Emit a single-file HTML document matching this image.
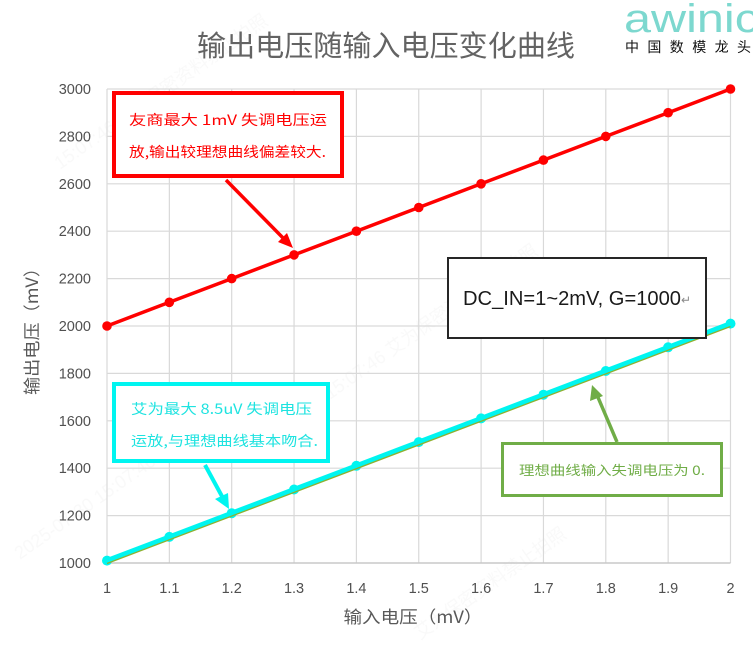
<!DOCTYPE html>
<html><head><meta charset="utf-8">
<style>
html,body{margin:0;padding:0;background:#fff;}
svg{display:block;}
text{font-family:"Liberation Sans","Noto Sans CJK SC",sans-serif;}
.cjk{font-family:"Noto Sans CJK SC","Liberation Sans",sans-serif;}
</style></head>
<body>
<svg width="753" height="649" viewBox="0 0 753 649" xmlns="http://www.w3.org/2000/svg">
<rect width="753" height="649" fill="#fff"/>

<!-- watermarks -->
<g fill="#000" opacity="0.025" font-size="18" class="cjk">
<text x="60" y="170" transform="rotate(-35 60 170)">15:07:46  艾为保密资料禁止拍照</text>
<text x="20" y="560" transform="rotate(-35 20 560)">2025-07-30  15:07:46</text>
<text x="420" y="640" transform="rotate(-35 420 640)">艾为保密资料禁止拍照</text>
<text x="330" y="400" transform="rotate(-35 330 400)">15:07:46  艾为保密资料禁止拍照</text>
</g>

<!-- title -->
<text x="386" y="56" text-anchor="middle" font-size="29" fill="#636363" class="cjk" textLength="378" lengthAdjust="spacingAndGlyphs">输出电压随输入电压变化曲线</text>

<!-- logo -->
<text x="624" y="32" font-size="40" fill="#7dd8cf" textLength="135" lengthAdjust="spacingAndGlyphs" style="font-weight:300">awinic</text>
<text x="625" y="52" font-size="14" fill="#111" class="cjk" textLength="126" lengthAdjust="spacing">中国数模龙头</text>

<!-- grid -->
<g stroke="#d9d9d9" stroke-width="1.2">
<line x1="107" y1="89" x2="730.5" y2="89"/>
<line x1="107" y1="136.4" x2="730.5" y2="136.4"/>
<line x1="107" y1="183.8" x2="730.5" y2="183.8"/>
<line x1="107" y1="231.2" x2="730.5" y2="231.2"/>
<line x1="107" y1="278.6" x2="730.5" y2="278.6"/>
<line x1="107" y1="326" x2="730.5" y2="326"/>
<line x1="107" y1="373.4" x2="730.5" y2="373.4"/>
<line x1="107" y1="420.8" x2="730.5" y2="420.8"/>
<line x1="107" y1="468.2" x2="730.5" y2="468.2"/>
<line x1="107" y1="515.6" x2="730.5" y2="515.6"/>
<line x1="107" y1="89" x2="107" y2="563"/>
<line x1="169.35" y1="89" x2="169.35" y2="563"/>
<line x1="231.7" y1="89" x2="231.7" y2="563"/>
<line x1="294.05" y1="89" x2="294.05" y2="563"/>
<line x1="356.4" y1="89" x2="356.4" y2="563"/>
<line x1="418.75" y1="89" x2="418.75" y2="563"/>
<line x1="481.1" y1="89" x2="481.1" y2="563"/>
<line x1="543.45" y1="89" x2="543.45" y2="563"/>
<line x1="605.8" y1="89" x2="605.8" y2="563"/>
<line x1="668.15" y1="89" x2="668.15" y2="563"/>
<line x1="730.5" y1="89" x2="730.5" y2="563"/>
</g>
<line x1="107" y1="563" x2="730.5" y2="563" stroke="#c8c8c8" stroke-width="1.5"/>

<!-- y tick labels -->
<g font-size="14.5" fill="#505050" text-anchor="end">
<text x="91" y="94">3000</text>
<text x="91" y="141.4">2800</text>
<text x="91" y="188.8">2600</text>
<text x="91" y="236.2">2400</text>
<text x="91" y="283.6">2200</text>
<text x="91" y="331">2000</text>
<text x="91" y="378.4">1800</text>
<text x="91" y="425.8">1600</text>
<text x="91" y="473.2">1400</text>
<text x="91" y="520.6">1200</text>
<text x="91" y="568">1000</text>
</g>
<!-- x tick labels -->
<g font-size="14.5" fill="#505050" text-anchor="middle">
<text x="107" y="593">1</text>
<text x="169.35" y="593">1.1</text>
<text x="231.7" y="593">1.2</text>
<text x="294.05" y="593">1.3</text>
<text x="356.4" y="593">1.4</text>
<text x="418.75" y="593">1.5</text>
<text x="481.1" y="593">1.6</text>
<text x="543.45" y="593">1.7</text>
<text x="605.8" y="593">1.8</text>
<text x="668.15" y="593">1.9</text>
<text x="730.5" y="593">2</text>
</g>

<!-- axis titles -->
<text x="413" y="623" text-anchor="middle" font-size="17" fill="#595959" class="cjk" textLength="139" lengthAdjust="spacingAndGlyphs">输入电压（mV）</text>
<text x="0" y="0" transform="translate(38 327) rotate(-90)" text-anchor="middle" font-size="17" fill="#595959" class="cjk" textLength="136" lengthAdjust="spacingAndGlyphs">输出电压（mV）</text>

<!-- red series -->
<polyline fill="none" stroke="#ff0000" stroke-width="3.5" points="107,326 169.35,302.3 231.7,278.6 294.05,254.9 356.4,231.2 418.75,207.5 481.1,183.8 543.45,160.1 605.8,136.4 668.15,112.7 730.5,89"/>
<g fill="#ff0000">
<circle cx="107" cy="326" r="4.8"/><circle cx="169.35" cy="302.3" r="4.8"/><circle cx="231.7" cy="278.6" r="4.8"/><circle cx="294.05" cy="254.9" r="4.8"/><circle cx="356.4" cy="231.2" r="4.8"/><circle cx="418.75" cy="207.5" r="4.8"/><circle cx="481.1" cy="183.8" r="4.8"/><circle cx="543.45" cy="160.1" r="4.8"/><circle cx="605.8" cy="136.4" r="4.8"/><circle cx="668.15" cy="112.7" r="4.8"/><circle cx="730.5" cy="89" r="4.8"/>
</g>

<!-- cyan series -->
<polyline fill="none" stroke="#00f5f0" stroke-width="5" points="107,560.6 169.35,536.9 231.7,513.2 294.05,489.5 356.4,465.8 418.75,442.1 481.1,418.4 543.45,394.7 605.8,371 668.15,347.3 730.5,323.6"/>
<g fill="#00f5f0">
<circle cx="107" cy="560.6" r="5"/><circle cx="169.35" cy="536.9" r="5"/><circle cx="231.7" cy="513.2" r="5"/><circle cx="294.05" cy="489.5" r="5"/><circle cx="356.4" cy="465.8" r="5"/><circle cx="418.75" cy="442.1" r="5"/><circle cx="481.1" cy="418.4" r="5"/><circle cx="543.45" cy="394.7" r="5"/><circle cx="605.8" cy="371" r="5"/><circle cx="668.15" cy="347.3" r="5"/><circle cx="730.5" cy="323.6" r="5"/>
</g>
<!-- green ideal -->
<line x1="107" y1="563.5" x2="730.5" y2="326.5" stroke="#8fb030" stroke-width="1.3"/>

<!-- red box -->
<rect x="114" y="93" width="228" height="83" fill="#fff" stroke="#ff0000" stroke-width="4"/>
<text x="129" y="125" font-size="14" fill="#ff0000" class="cjk" textLength="198" lengthAdjust="spacingAndGlyphs">友商最大  1mV  失调电压运</text>
<text x="129" y="157" font-size="14" fill="#ff0000" class="cjk" textLength="197" lengthAdjust="spacingAndGlyphs">放,输出较理想曲线偏差较大.</text>
<line x1="226" y1="180" x2="286" y2="241" stroke="#ff0000" stroke-width="3.5"/>
<polygon points="293,248 278,242 287,233" fill="#ff0000"/>

<!-- cyan box -->
<rect x="114" y="384" width="214" height="77" fill="#fff" stroke="#00f5f0" stroke-width="4"/>
<text x="131" y="414" font-size="14" fill="#1ee3e0" class="cjk" textLength="181" lengthAdjust="spacingAndGlyphs">艾为最大  8.5uV  失调电压</text>
<text x="131" y="446" font-size="14" fill="#1ee3e0" class="cjk" textLength="187" lengthAdjust="spacingAndGlyphs">运放,与理想曲线基本吻合.</text>
<line x1="205" y1="465" x2="224" y2="500" stroke="#00f5f0" stroke-width="4"/>
<polygon points="229,509 215,499 228,493" fill="#00f5f0"/>

<!-- DC box -->
<rect x="448" y="258" width="258" height="80" fill="#fff" stroke="#262626" stroke-width="2"/>
<text x="463" y="305" font-size="20" fill="#1a1a1a" textLength="218" lengthAdjust="spacingAndGlyphs">DC_IN=1~2mV, G=1000</text>
<text x="681" y="304" font-size="12" fill="#888">↵</text>

<!-- green box -->
<rect x="502.5" y="443.5" width="219" height="52" fill="#fff" stroke="#70ad47" stroke-width="3"/>
<text x="519" y="475" font-size="13" fill="#70ad47" class="cjk" textLength="186" lengthAdjust="spacingAndGlyphs">理想曲线输入失调电压为 0.</text>
<line x1="617" y1="442" x2="597" y2="395" stroke="#70ad47" stroke-width="3.5"/>
<polygon points="592,385 590,401 603,396" fill="#70ad47"/>
</svg>
</body></html>
